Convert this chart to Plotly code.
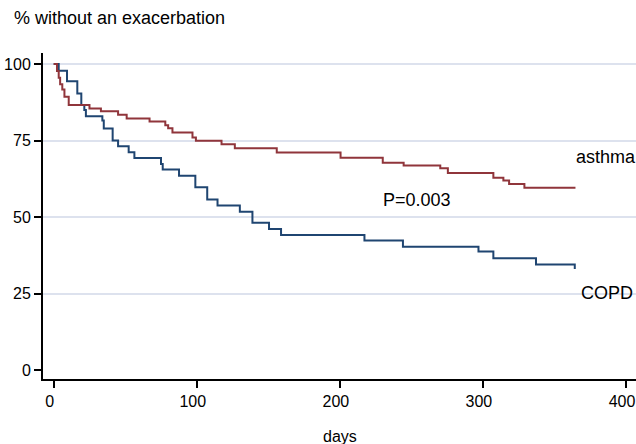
import plotly.graph_objects as go

# Kaplan-Meier style step data
ASTHMA_DAYS = [0, 2.3, 3.5, 4.5, 6, 7.5, 10.5, 25, 33, 45, 51, 67, 78, 80, 83, 97, 99.4,
               117.3, 126.6, 155.9, 200.5, 230, 244.6, 270.2, 275.5, 307.3, 314.3, 318.3, 329, 364.7]
ASTHMA_PCT = [100, 97.7, 95.5, 93.4, 91.7, 89.3, 86.6, 85.5, 84.6, 83.4, 82.2, 81.2, 80.0, 79.0,
              77.6, 76.0, 74.9, 73.8, 72.5, 71.1, 69.4, 67.7, 66.8, 65.9, 64.4, 62.8, 61.9, 60.8,
              59.6, 59.6]

COPD_DAYS = [0, 3.5, 9.3, 16.5, 19.3, 21.4, 22.5, 34.0, 35.0, 41.2, 45.0, 52.4, 56.4, 75.0, 76.2,
             87.6, 99.0, 107.3, 114.5, 130.1, 138.9, 150.5, 158.9, 217.2, 244.1, 296.9, 307.3,
             337.1, 364.2]
COPD_PCT = [100, 97.8, 94.4, 90.4, 86.6, 85.0, 82.9, 81.5, 78.9, 75.0, 73.1, 71.2, 69.3, 67.3,
            65.5, 63.5, 59.7, 55.7, 53.8, 51.7, 48.1, 46.1, 44.1, 42.3, 40.3, 38.7, 36.5, 34.5, 33.0]

X_TICKS = [0, 100, 200, 300, 400]
Y_TICKS = [0, 25, 50, 75, 100]
Y_GRID = [25, 50, 75, 100]

LABELS = {"asthma": (363.6, 69.6), "P=0.003": (228.7, 55.6), "COPD": (367.1, 25.2)}

FONT = "Liberation Sans, Arial, sans-serif"
NAVY = "#1f4571"
MAROON = "#90353b"

fig = go.Figure()
fig.add_trace(go.Scatter(x=COPD_DAYS, y=COPD_PCT, mode="lines", line_shape="hv",
                         line=dict(color=NAVY, width=2), name="COPD", showlegend=False))
fig.add_trace(go.Scatter(x=ASTHMA_DAYS, y=ASTHMA_PCT, mode="lines", line_shape="hv",
                         line=dict(color=MAROON, width=2), name="asthma", showlegend=False))

YR = [-2.94, 103.6]
fig.update_layout(
    width=636, height=444,
    margin=dict(l=43, r=0, t=53, b=65, autoexpand=False),
    paper_bgcolor="white", plot_bgcolor="white",
    font=dict(family=FONT, size=16, color="#000000"),
    title=dict(text="% without an exacerbation", x=14 / 636, xanchor="left",
               y=1 - 18 / 444, yanchor="middle", yref="container",
               font=dict(family=FONT, size=18, color="#000000")),
    xaxis=dict(range=[-7.48, 407.0], tickvals=X_TICKS, showgrid=False, zeroline=False,
               showline=True, linecolor="#000000", linewidth=2, automargin=False,
               ticks="outside", ticklen=7, tickwidth=2, tickcolor="#000000",
               ticklabeloverflow="allow", ticklabelshift=-4,
               tickfont=dict(family=FONT, size=16, color="#000000")),
    yaxis=dict(range=YR, tickvals=Y_TICKS, showgrid=False, zeroline=False,
               showline=True, linecolor="#000000", linewidth=2, automargin=False,
               ticks="outside", ticklen=7, tickwidth=2, tickcolor="#000000",
               ticklabelstandoff=0,
               tickfont=dict(family=FONT, size=16, color="#000000")),
    yaxis2=dict(range=YR, overlaying="y", tickvals=Y_GRID, showgrid=True,
                gridcolor="#dde2ee", gridwidth=2, showticklabels=False, ticks="",
                zeroline=False, showline=False, automargin=False),
)
# invisible trace to activate yaxis2 grid
fig.add_trace(go.Scatter(x=[None], y=[None], yaxis="y2", showlegend=False, hoverinfo="skip"))

for txt, (xx, yy) in LABELS.items():
    fig.add_annotation(x=xx, y=yy, xref="x", yref="y", text=txt, showarrow=False,
                       xanchor="left", yanchor="middle",
                       font=dict(family=FONT, size=18, color="#000000"))

fig.add_annotation(x=0.5, y=-(436 - 379) / 326, xref="paper", yref="paper", text="days",
                   showarrow=False, xanchor="center", yanchor="middle",
                   font=dict(family=FONT, size=16, color="#000000"))

fig.write_html("out.html", config={"displayModeBar": False},
               post_script="document.body.style.margin='0';document.body.style.overflow='hidden';")
